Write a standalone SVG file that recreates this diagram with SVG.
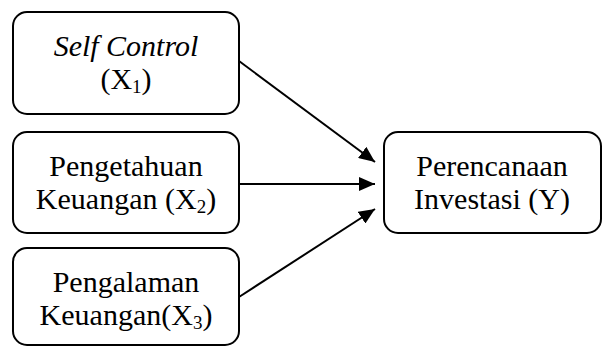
<svg xmlns="http://www.w3.org/2000/svg" width="603" height="347" viewBox="0 0 603 347">
<style>
.box{fill:#fff;stroke:#000;stroke-width:2}
.t{font-family:'Liberation Serif','Times New Roman',serif;font-size:30px;fill:#000;text-anchor:middle}
.sub{font-size:19px}
.edge{stroke:#000;stroke-width:2;fill:none}
</style>
<defs>
<marker id="ah" viewBox="0 0 16 14" refX="16" refY="7" markerWidth="16" markerHeight="14" markerUnits="userSpaceOnUse" orient="auto">
<path d="M0,0 L16,7 L0,14 z" fill="#000"/>
</marker>
</defs>
<rect width="603" height="347" fill="#fff"/>
<g id="x1">
<rect class="box" x="13" y="12" width="226" height="102" rx="14"/>
<text class="t" x="126" y="56" font-style="italic">Self Control</text>
<text class="t" x="126" y="89">(X<tspan class="sub" dy="4">1</tspan><tspan dy="-4">)</tspan></text>
</g>
<g id="x2">
<rect class="box" x="13" y="132" width="226" height="101" rx="14"/>
<text class="t" x="126" y="176">Pengetahuan</text>
<text class="t" x="126" y="209">Keuangan (X<tspan class="sub" dy="4">2</tspan><tspan dy="-4">)</tspan></text>
</g>
<g id="x3">
<rect class="box" x="13" y="248" width="226" height="97" rx="14"/>
<text class="t" x="126" y="292">Pengalaman</text>
<text class="t" x="126" y="325">Keuangan(X<tspan class="sub" dy="4">3</tspan><tspan dy="-4">)</tspan></text>
</g>
<g id="y">
<rect class="box" x="384" y="132" width="217" height="101" rx="14"/>
<text class="t" x="492" y="176">Perencanaan</text>
<text class="t" x="492" y="209">Investasi (Y)</text>
</g>
<g id="connectors">
<line class="edge" x1="239" y1="61" x2="375" y2="162" marker-end="url(#ah)"/>
<line class="edge" x1="239" y1="184" x2="375" y2="184" marker-end="url(#ah)"/>
<line class="edge" x1="239" y1="297" x2="375" y2="209" marker-end="url(#ah)"/>
</g>
</svg>
